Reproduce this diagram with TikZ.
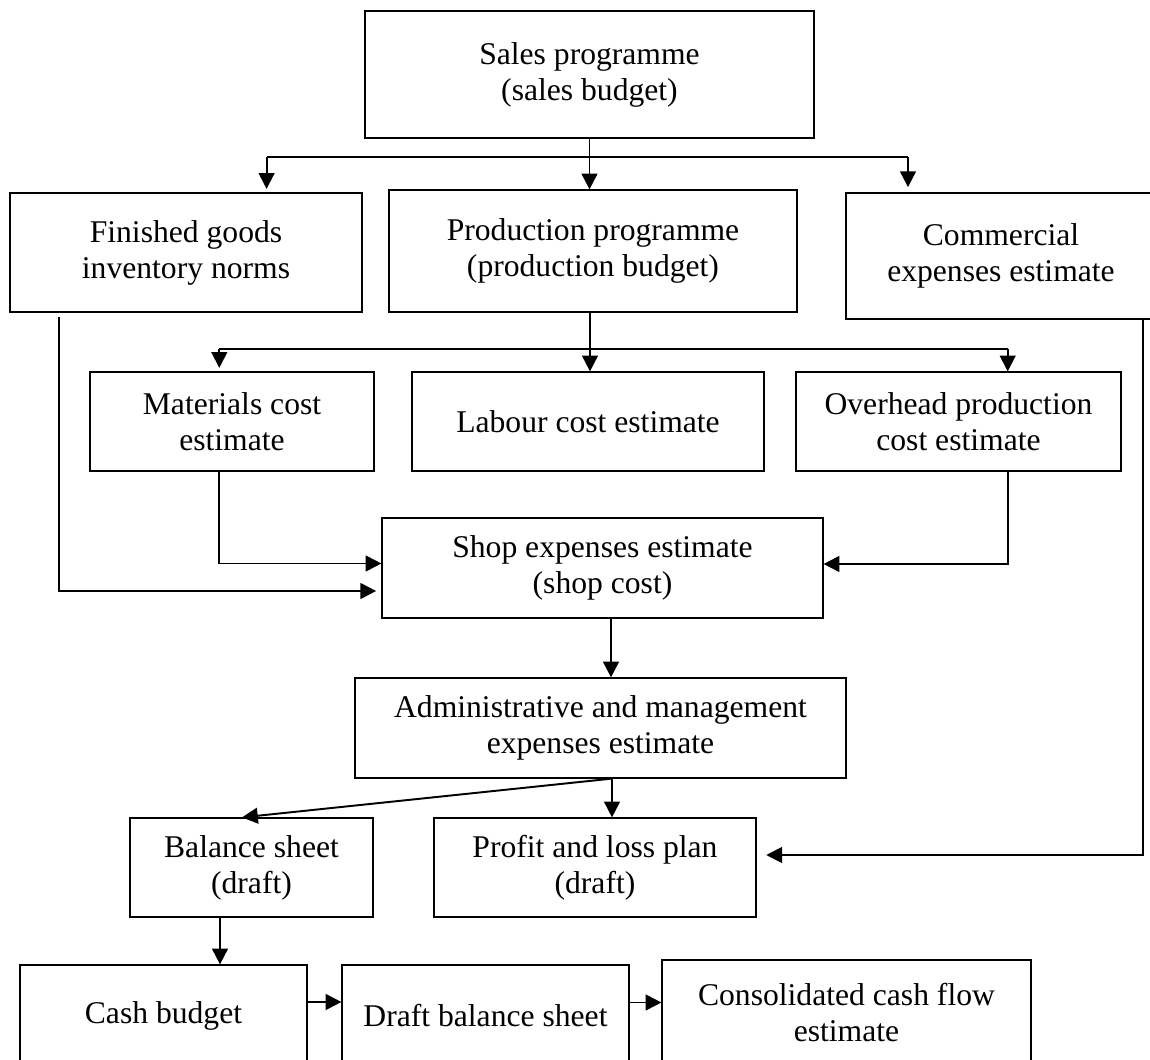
\documentclass[tikz,border=0pt]{standalone}
\usepackage{fontspec}
\setmainfont{Liberation Serif}
\usetikzlibrary{arrows.meta}
\tikzset{
	box/.style={draw, line width=0.7pt, align=center, inner sep=0pt, font=\fontsize{18}{20.5}\selectfont},
	line/.style={line width=1.1pt},
	link/.style={line width=1.1pt, -{Triangle[length=9pt,width=9pt]}}
}

\begin{document}
\begin{tikzpicture}[x=0.02cm, y=-0.02cm]
			%%%%% START %%%%%
			\useasboundingbox (0, 0) rectangle (1150, 1060);
			\clip (0, 0) rectangle (1150, 1060);
			
			\node[box, minimum width=8.98cm, minimum height=2.54cm] (sales) at (589.5, 74.5) {Sales programme\\(sales budget)};
			
			\node[box, minimum width=7.04cm, minimum height=2.38cm] (fg) at (186, 252.5) {Finished goods\\inventory norms};
			\node[box, minimum width=8.16cm, minimum height=2.44cm] (prod) at (593, 251) {Production programme\\(production budget)};
			\node[box, minimum width=6.2cm, minimum height=2.52cm] (comm) at (1001, 256) {Commercial\\expenses estimate};
			
			\node[box, minimum width=5.68cm, minimum height=1.98cm] (mat) at (232, 421.5) {Materials cost\\estimate};
			\node[box, minimum width=7.04cm, minimum height=1.98cm] (lab) at (588, 421.5) {Labour cost estimate};
			\node[box, minimum width=6.5cm, minimum height=1.98cm] (ovh) at (958.5, 421.5) {Overhead production\\cost estimate};
			
			\node[box, minimum width=8.82cm, minimum height=2.0cm] (shop) at (602.5, 568) {Shop expenses estimate\\(shop cost)};
			\node[box, minimum width=9.82cm, minimum height=2.0cm] (admin) at (600.5, 728) {Administrative and management\\expenses estimate};
			
			\node[box, minimum width=4.86cm, minimum height=1.98cm] (bal) at (251.5, 867.5) {Balance sheet\\(draft)};
			\node[box, minimum width=6.44cm, minimum height=1.98cm] (pl) at (595, 867.5) {Profit and loss plan\\(draft)};
			
			\node[box, minimum width=5.74cm, minimum height=2.02cm] (cash) at (163.5, 1015.5) {Cash budget};
			\node[box, minimum width=5.74cm, minimum height=2.02cm] (draft) at (485.5, 1015.5) {Draft balance sheet};
			\node[box, minimum width=7.38cm, minimum height=2.12cm] (cons) at (846.5, 1013) {Consolidated cash flow\\estimate};
			
			% first branch
			\coordinate (sbl) at (266.6, 157);
			\coordinate (sbr) at (908, 157);
			\draw[line] (sbl) -- (sbr);
			\draw[link] (sales.south) -- (sales.south |- prod.north);
			\draw[link, shorten >=2pt] (sbl) -- (sbl |- fg.north);
			\draw[link, shorten >=3pt] (sbr) -- (sbr |- comm.north);
			
			% second branch
			\coordinate (pb) at (590, 349);
			\coordinate (mbl) at (219.3, 349);
			\coordinate (mbr) at (1007.7, 349);
			\draw[line] (mbl) -- (mbr);
			\draw[link] (prod.south -| pb) -- (lab.north -| pb);
			\draw[link, shorten >=2pt] (mbl) -- (mbl |- mat.north);
			\draw[link] (mbr) -- (mbr |- ovh.north);
			
			% into shop
			\coordinate (mj) at (219.3, 563.5);
			\coordinate (oj) at (1008, 564);
			\coordinate (fj) at (58.7, 591);
			\draw[link] (mat.south -| mj) -- (mj) -- (mj -| shop.west);
			\draw[link] (ovh.south -| oj) -- (oj) -- (oj -| shop.east);
			\draw[link, shorten <=2.5pt, shorten >=3pt] (fg.south -| fj) -- (fj) -- (fj -| shop.west);
			
			\coordinate (sj) at (611, 650);
			\draw[link] (shop.south -| sj) -- (admin.north -| sj);
			
			\coordinate (aj) at (612, 800);
			\coordinate (bj) at (242, 800);
			\draw[link] (admin.south -| aj) -- (pl.north -| aj);
			\draw[link] (admin.south -| aj) -- (bal.north -| bj);
			
			\coordinate (cj) at (1143.3, 855);
			\draw[link, shorten >=5.5pt] (comm.south -| cj) -- (cj) -- (cj -| pl.east);
			
			\coordinate (bc) at (220, 940);
			\draw[link] (bal.south -| bc) -- (cash.north -| bc);
			
			\coordinate (cd) at (320, 1002);
			\coordinate (dc) at (645, 1002.5);
			\draw[link] (cd -| cash.east) -- (cd -| draft.west);
			\draw[link] (dc -| draft.east) -- (dc -| cons.west);
			%%%%% END %%%%%
\end{tikzpicture}
\end{document}
